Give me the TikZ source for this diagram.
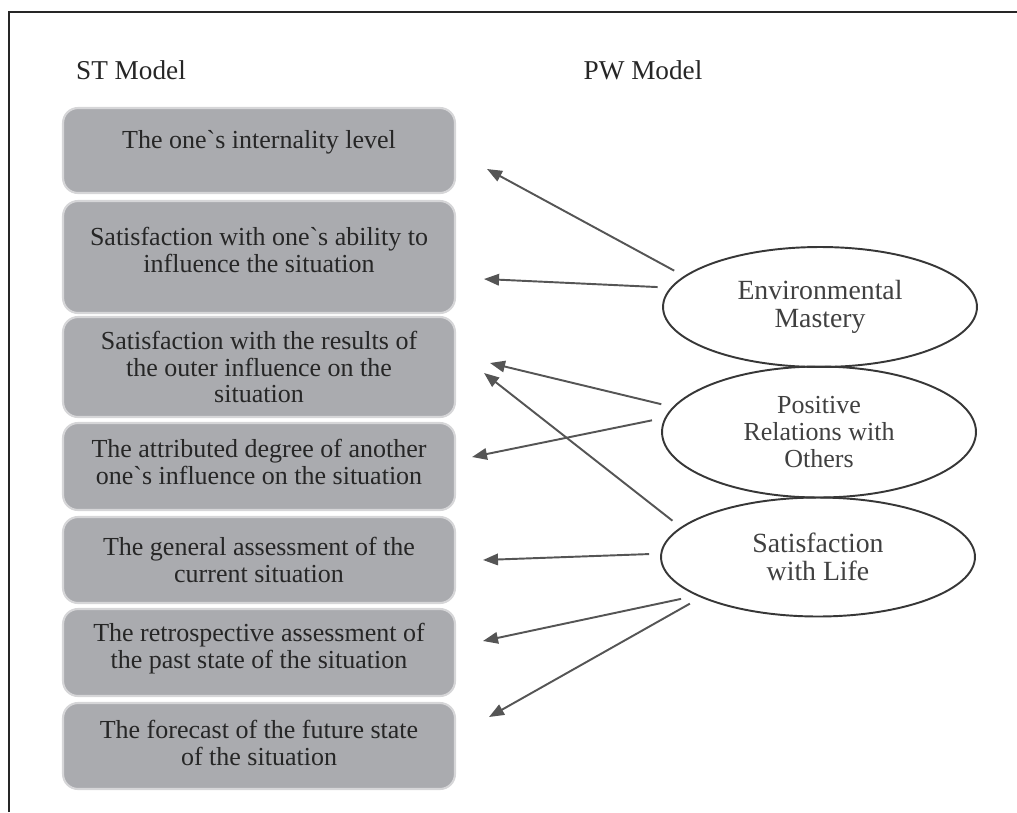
\documentclass[tikz,border=0pt]{standalone}
\usepackage{fontspec}
\setmainfont{Liberation Serif}[Ligatures=TeXOff]
\usetikzlibrary{arrows.meta,shapes.geometric}

\definecolor{stfill}{RGB}{170,171,175}
\definecolor{stedge}{RGB}{214,214,216}
\definecolor{pwline}{RGB}{55,55,55}
\definecolor{infgray}{RGB}{85,85,85}

\begin{document}
\begin{tikzpicture}[x=0.02cm, y=-0.02cm,
    stbox/.style={draw=stedge, line width=1.2pt, fill=stfill, rounded corners=0.3cm,
        minimum width=7.84cm, align=center, text=black!85,
        font=\fontsize{14.8pt}{15.1pt}\selectfont},
    pwell/.style={ellipse, draw=pwline, line width=1.1pt, minimum width=6.28cm,
        outer sep=0.24cm, inner sep=0pt, align=center, text=black!75,
        font=\fontsize{15.8pt}{15.8pt}\selectfont},
    title/.style={font=\fontsize{15.5pt}{16pt}\selectfont, text=black!85},
    infl/.style={draw=infgray, line width=1.1pt,
        -{Triangle[length=0.3cm, width=0.23cm]}}]

    \useasboundingbox (0,0) rectangle (1017,812);

    % frame
    \coordinate (fa) at (9,812);
    \coordinate (fb) at (9,12);
    \coordinate (fc) at (1017,12);
    \draw[line width=0.035cm, black!85] (fa) -- (fb) -- (fc);

    \node[title] (st) at (131,70) {ST Model};
    \node[title] (pw) at (643,70) {PW Model};

    % ST model boxes (text depth lifts the text a little)
    \node[stbox, minimum height=1.7cm, text depth=13pt] (st1) at (259,150.5) {The one`s internality level};
    \node[stbox, minimum height=2.24cm, text depth=8pt] (st2) at (259,257) {Satisfaction with one`s ability to\\influence the situation};
    \node[stbox, minimum height=2.0cm] (st3) at (259,367) {Satisfaction with the results of\\the outer influence on the\\situation};
    \node[stbox, minimum height=1.74cm, text depth=5.6pt] (st4) at (259,466.5) {The attributed degree of another\\one`s influence on the situation};
    \node[stbox, minimum height=1.72cm] (st5) at (259,560) {The general assessment of the\\current situation};
    \node[stbox, minimum height=1.74cm, text depth=7.7pt] (st6) at (259,652.5) {The retrospective assessment of\\the past state of the situation};
    \node[stbox, minimum height=1.72cm, text depth=3.4pt] (st7) at (259,746) {The forecast of the future state\\of the situation};

    % PW model scales
    \node[pwell, minimum height=2.4cm] (em) at (820,307) {Environmental\\Mastery};
    \node[pwell, minimum height=2.62cm, font=\fontsize{14.8pt}{15.2pt}\selectfont] (pr) at (819,432) {Positive\\Relations with\\Others};
    \node[pwell, minimum height=2.38cm] (sl) at (818,557) {Satisfaction\\with Life};

    \draw[infl] (em.166) -- ([shift={(31,18.5)}]st1.east);
    \draw[infl] (em.173) -- ([shift={(28,22)}]st2.east);
    \draw[infl] (pr.170) -- ([shift={(34,-4)}]st3.east);
    \draw[infl] (pr.176) -- ([shift={(16,-9.5)}]st4.east);
    \draw[infl] (sl.166) -- ([shift={(28,6)}]st3.east);
    \draw[infl] (sl.179) -- ([shift={(27,0)}]st5.east);
    \draw[infl] (sl.197) -- ([shift={(27,-11.5)}]st6.east);
    \draw[infl] (sl.200) -- ([shift={(33,-29)}]st7.east);

\end{tikzpicture}
\end{document}
